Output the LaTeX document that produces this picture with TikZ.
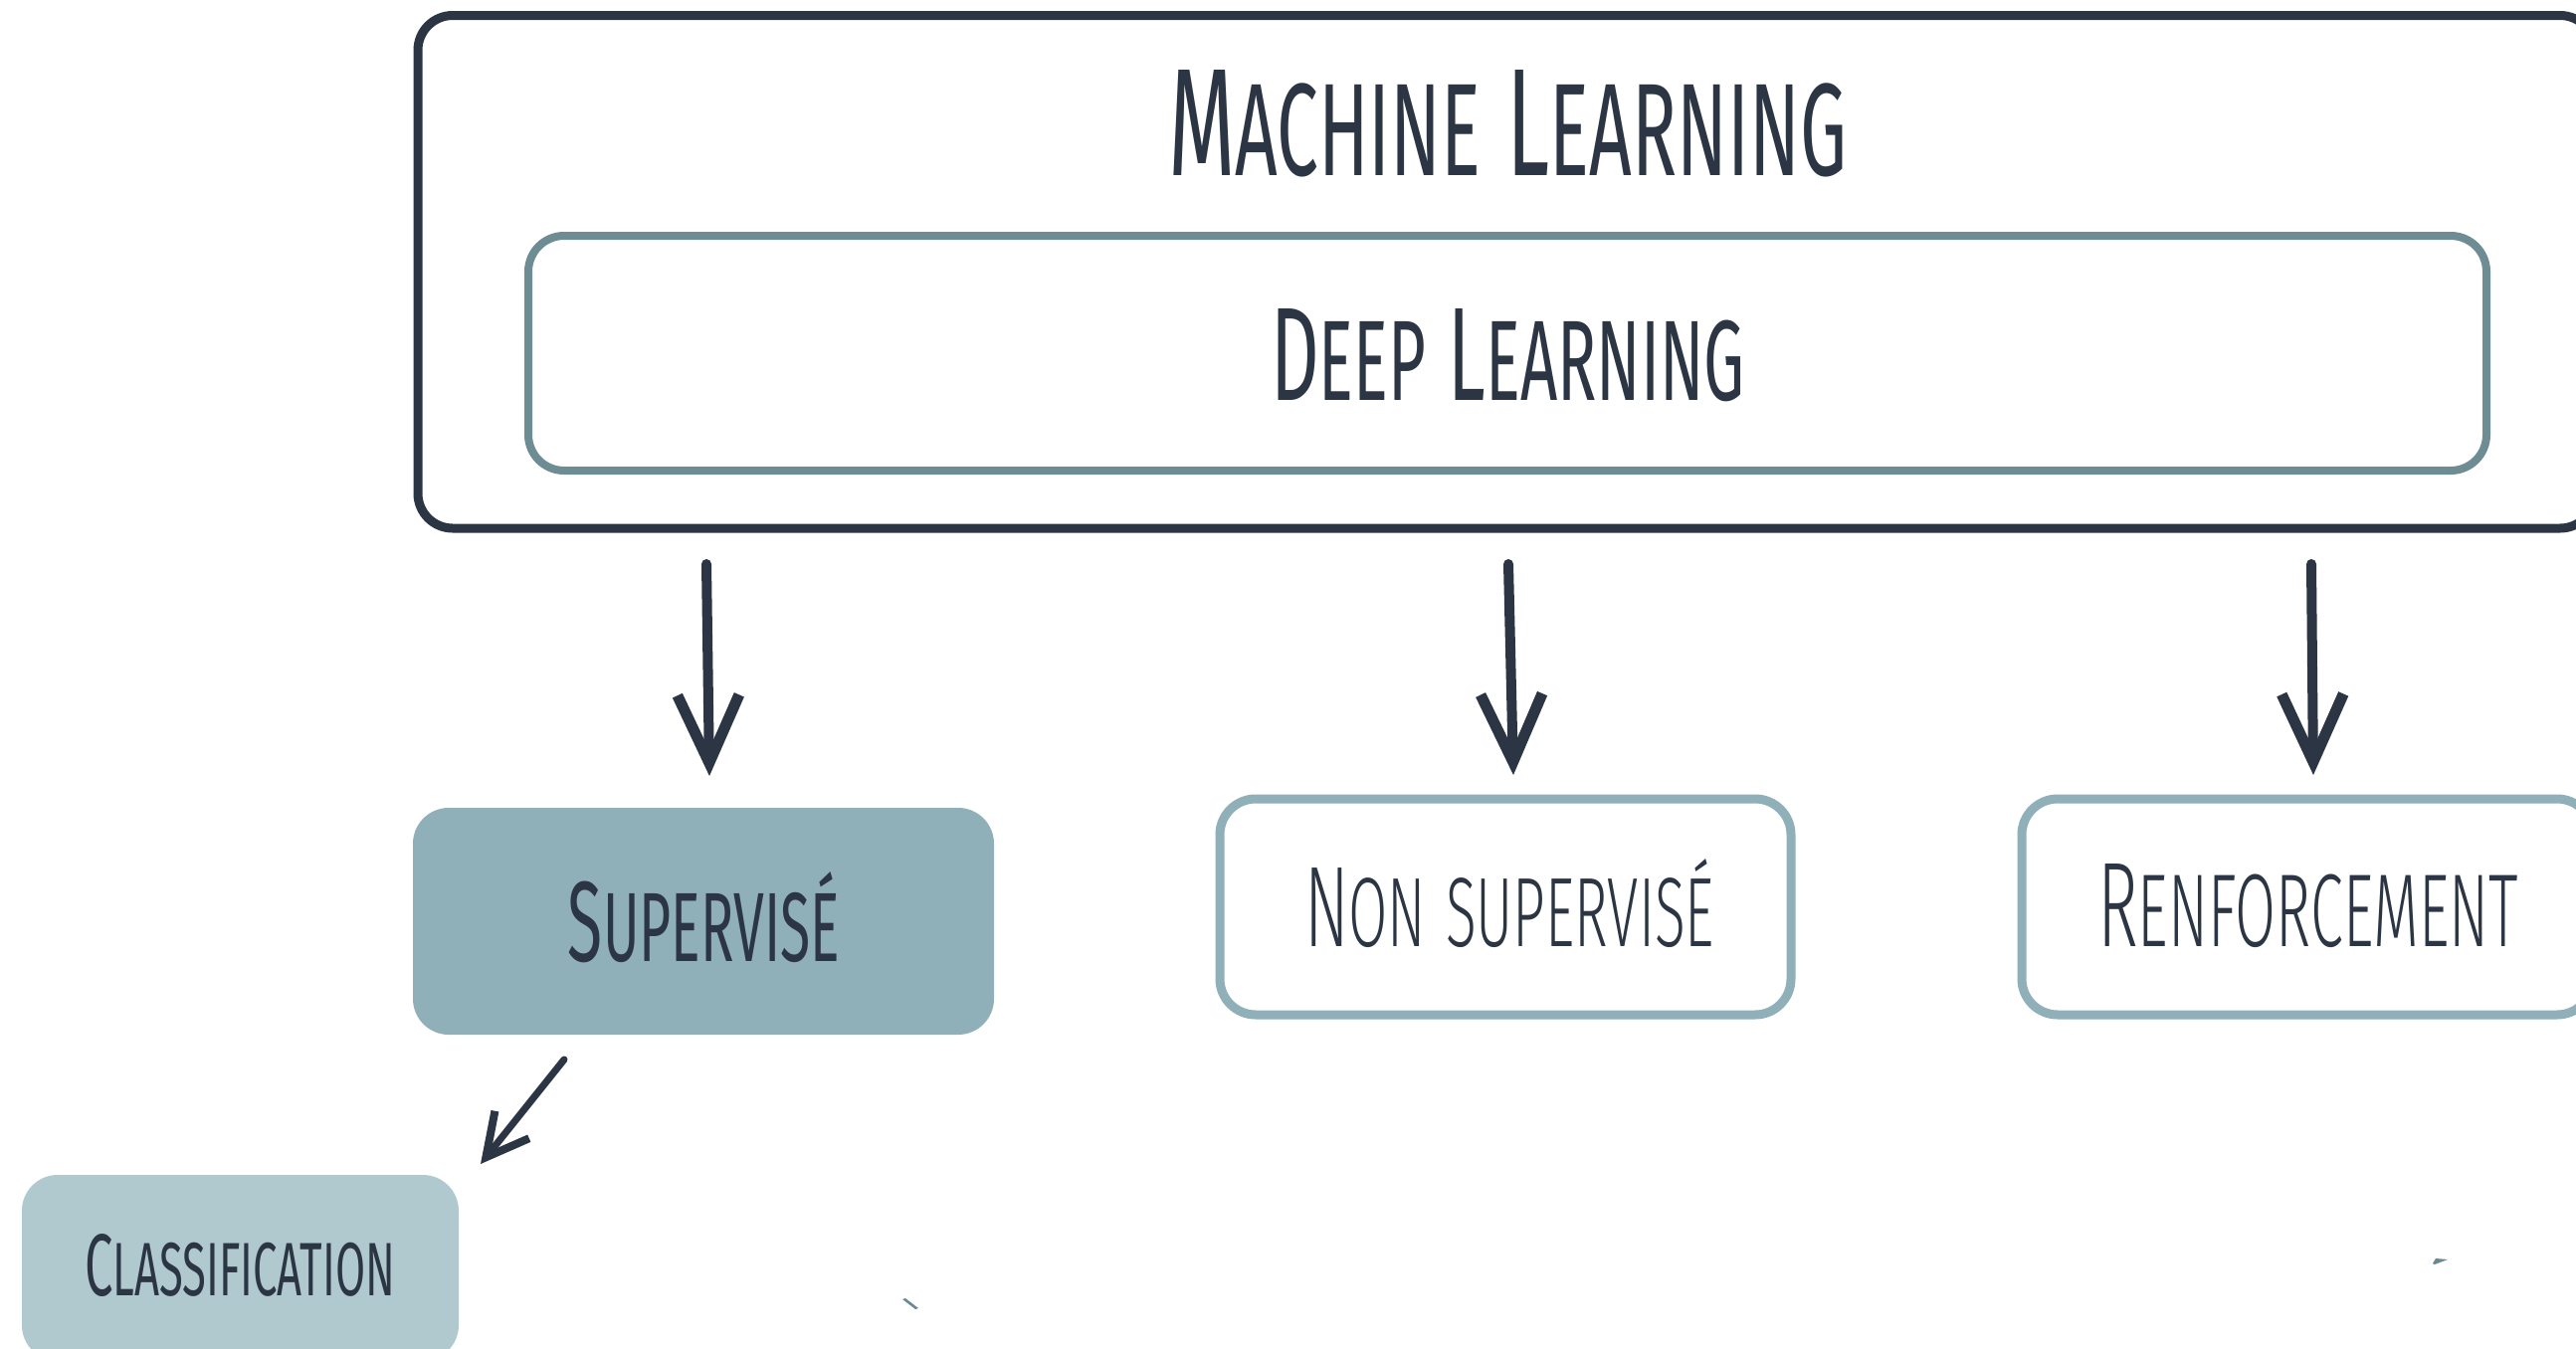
\documentclass[tikz,border=0pt]{standalone}
\usepackage{fontspec}
\usepackage{graphicx}
\setmainfont{Fira Sans}
\newfontfamily\thinfont{Fira Sans Light}
\usetikzlibrary{arrows.meta}
\definecolor{ink}{HTML}{2B3543}
\definecolor{deepline}{HTML}{6D8C93}
\definecolor{softline}{HTML}{8FB0B9}
\definecolor{clfill}{HTML}{B0C9CE}
\definecolor{speck}{HTML}{6A8A93}
\newcommand\AmSC[2]{{\fontsize{100pt}{100pt}\selectfont #1}{\fontsize{86pt}{86pt}\selectfont #2}}
\newcommand\Wsp{\hspace{30pt}}
\newcommand\FitText[3]{\resizebox{#1pt}{#2pt}{#3}}
\begin{document}
\begin{tikzpicture}[x=1pt,y=-1pt,
  box/.style={rounded corners=36pt, inner sep=0pt, outer sep=0pt},
  txt/.style={anchor=base, inner sep=0pt, outer sep=0pt, text=ink},
  harrow/.style={ink, line width=10pt, line cap=round,
    -{Straight Barb[length=68pt,width=62pt,line width=11pt]}},
  sarrow/.style={ink, line width=7pt, line cap=round,
    -{Straight Barb[length=42pt,width=44pt,line width=8pt]}}]
\useasboundingbox (0,0) rectangle (2589,1355);
\clip (0,0) rectangle (2589,1355);
\fill[white] (0,0) rectangle (2589,1355);

% boxes
\node[box, draw=ink, line width=9pt, rounded corners=35pt,
      minimum width=2188pt, minimum height=515.5pt] (ml) at (1514,273.25) {};
\node[box, draw=deepline, line width=8pt,
      minimum width=1968pt, minimum height=236pt] (dl) at (1515,355) {};
\node[box, fill=softline, minimum width=584pt, minimum height=228pt] (sup) at (707,926) {};
\node[box, draw=softline, fill=white, line width=9pt,
      minimum width=574pt, minimum height=217pt] (ns) at (1513,911.5) {};
\node[box, draw=softline, fill=white, line width=9pt,
      minimum width=574pt, minimum height=217pt] (rf) at (2319,911.5) {};
\node[box, fill=clfill, minimum width=439pt, minimum height=187pt] (cl) at (241.5,1274.5) {};

% texts
\node[txt] (mlt) at (1515,176) {\FitText{682}{106}{\AmSC{M}{ACHINE}\Wsp\AmSC{L}{EARNING}}};
\node[txt] (dlt) at (1515.5,402) {\FitText{477}{92}{\AmSC{D}{EEP}\Wsp\AmSC{L}{EARNING}}};
\node[txt] (supt) at (707.5,966) {\FitText{273}{90}{\AmSC{S}{UPERVISÉ}}};
\node[txt] (nst) at (1517,951) {\FitText{412}{88}{\thinfont\AmSC{N}{ON}\Wsp\AmSC{}{SUPERVISÉ}}};
\node[txt] (rft) at (2319.5,951) {\FitText{423}{83}{\thinfont\AmSC{R}{ENFORCEMENT}}};
\node[txt] (clt) at (241,1302) {\FitText{312}{62}{\AmSC{C}{LASSIFICATION}}};

% arrow start points
\coordinate (a1s) at (710,567);
\coordinate (a2s) at (1516,567);
\coordinate (a3s) at (2323,567);
\coordinate (a4s) at (567,1065);

\draw[harrow] (a1s) -- ([xshift=6pt,yshift=32pt]sup.north);
\draw[harrow] (a2s) -- ([xshift=8pt,yshift=24pt]ns.north);
\draw[harrow] (a3s) -- ([xshift=6pt,yshift=24pt]rf.north);
\draw[sarrow] (a4s) -- ([xshift=22pt,yshift=11pt]cl.north east);

% small specks
\fill[speck] (907,1306) -- (910,1305) -- (923,1315) -- (920,1316) -- cycle;
\fill[speck] (2445,1270) -- (2448,1265) -- (2460,1266) -- (2447,1271) -- cycle;
\end{tikzpicture}
\end{document}
